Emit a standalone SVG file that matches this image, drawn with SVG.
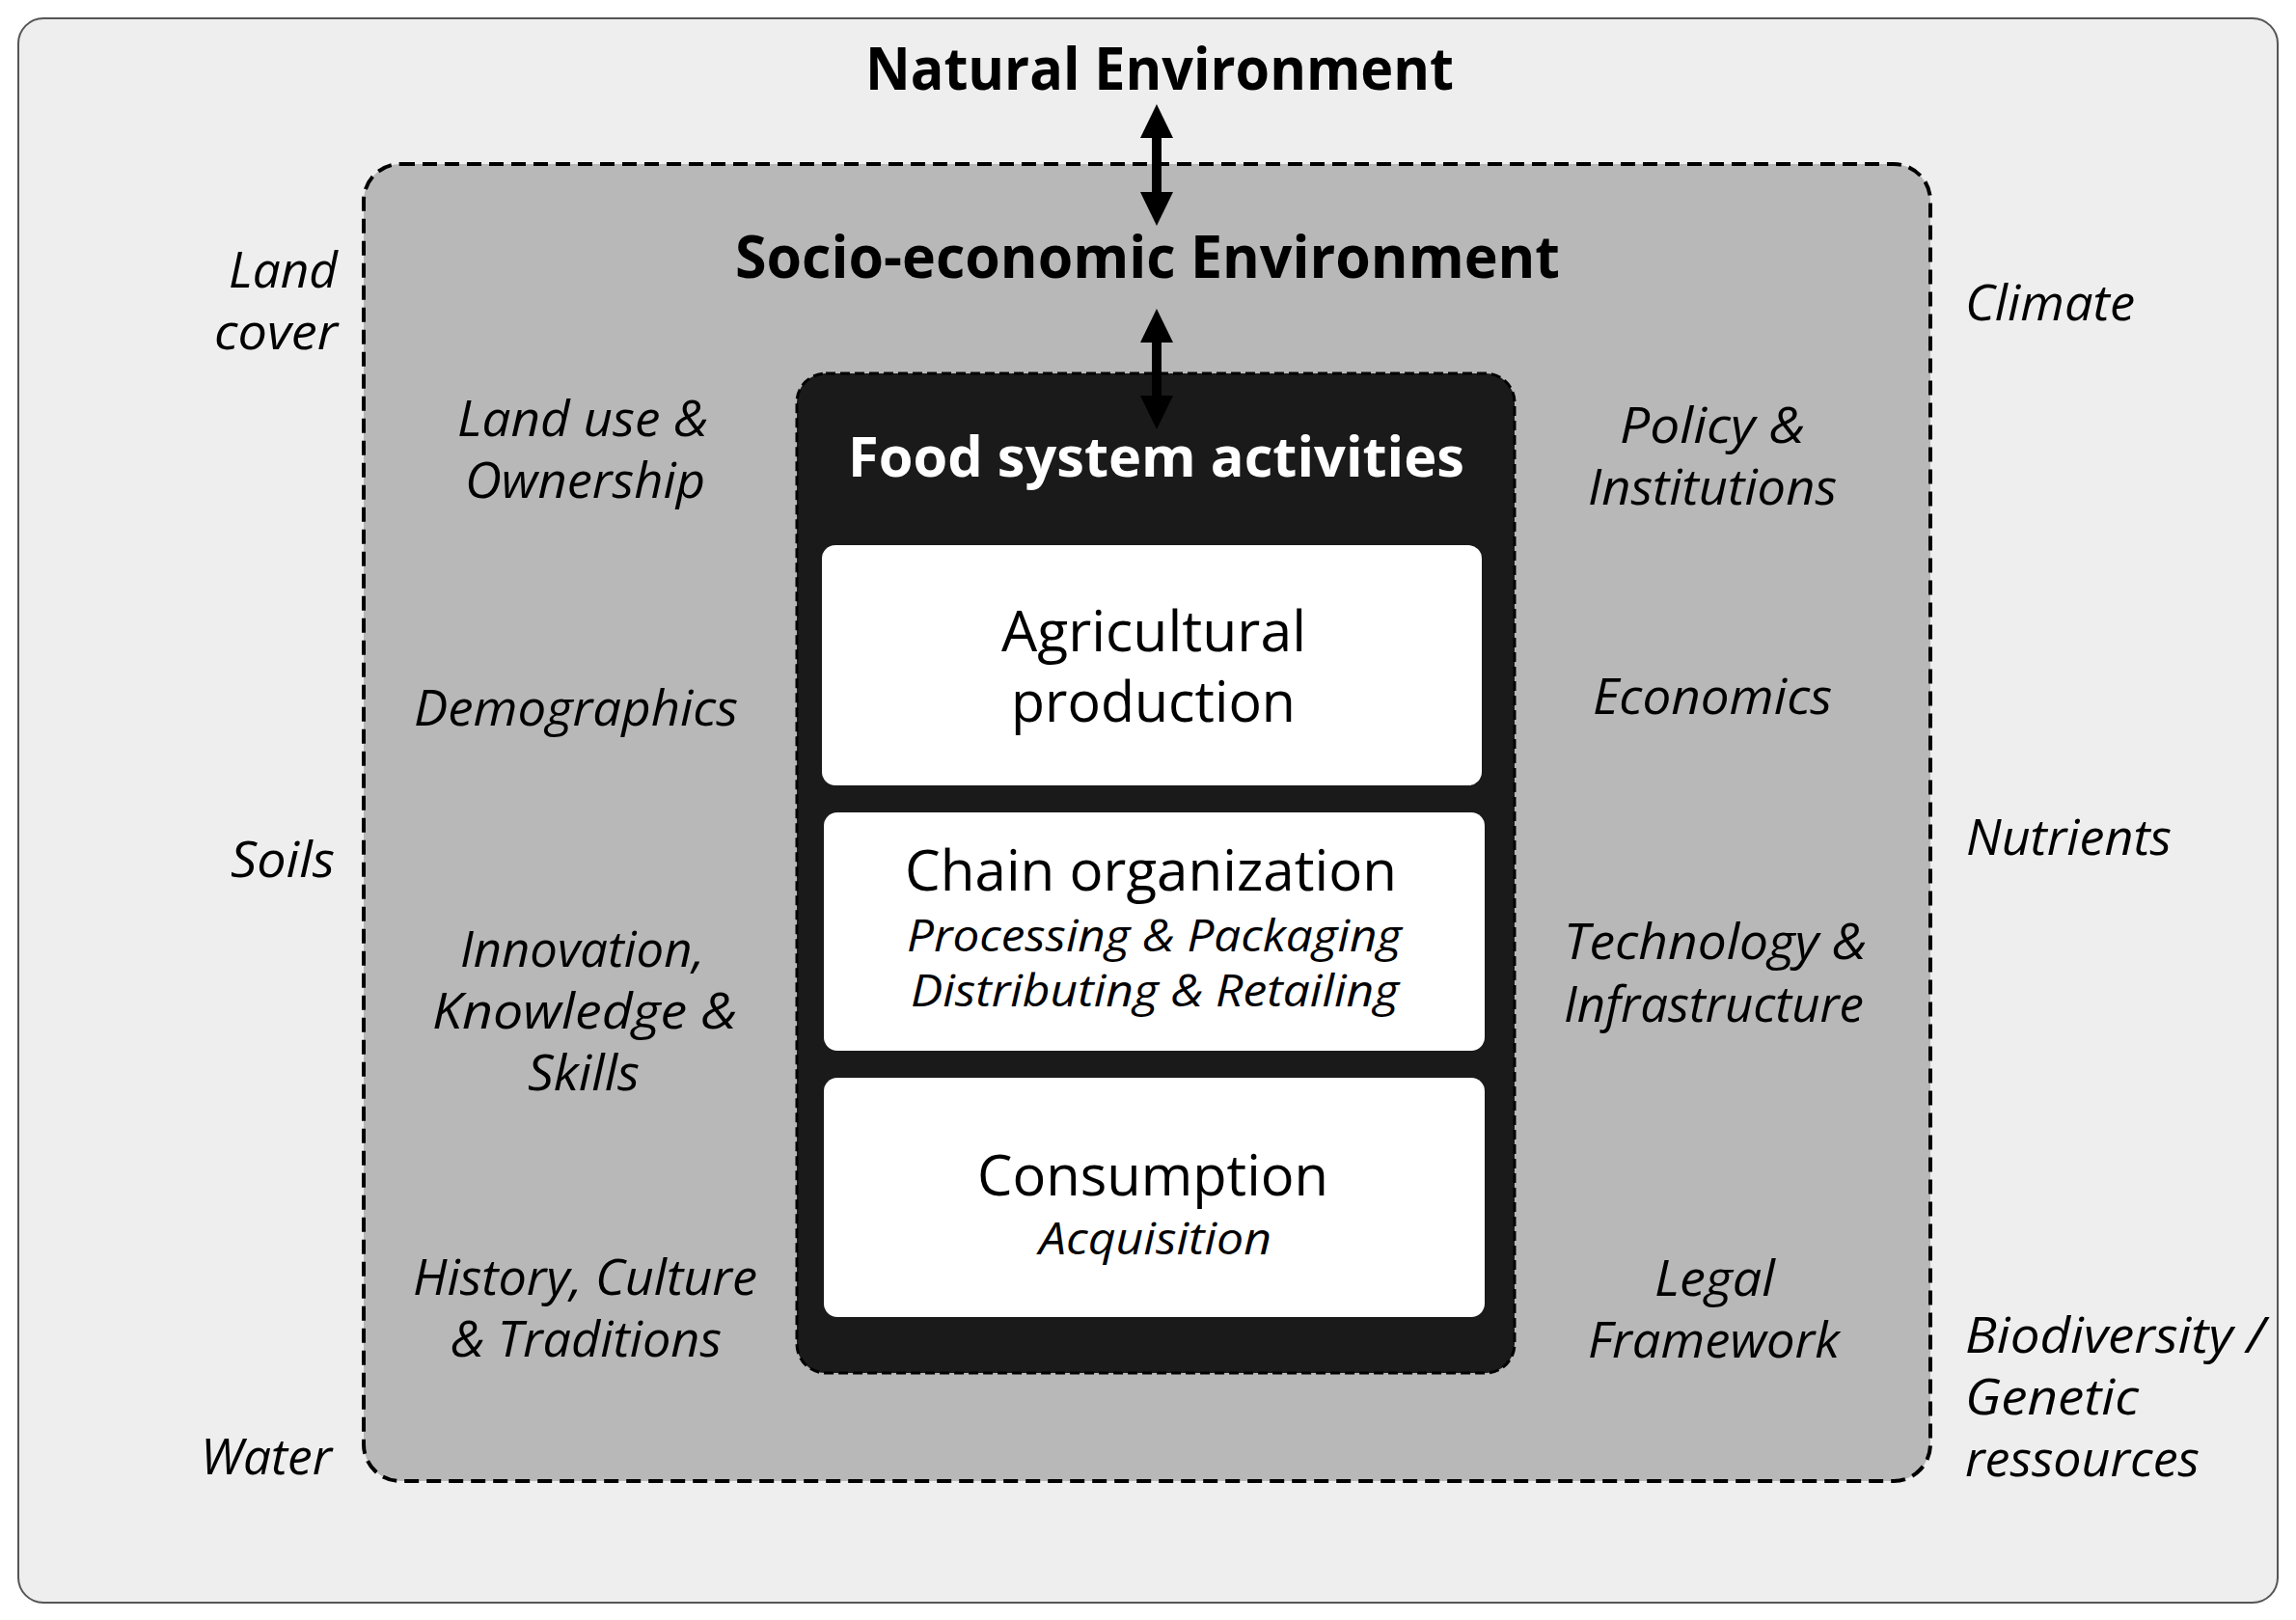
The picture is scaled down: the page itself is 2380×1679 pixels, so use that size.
<svg xmlns="http://www.w3.org/2000/svg" width="2380" height="1679" viewBox="0 0 2380 1679">
<defs>
<style>
text{font-family:"Open Sans","Noto Sans",sans-serif;fill:#000}
.title{font-weight:700;font-size:60px}
.ftitle{font-weight:700;font-size:58px;fill:#fff}
.main{font-size:58px}
.sub{font-size:46px;font-style:italic}
.lab{font-size:52px;font-style:italic}
.box{fill:#fff}
.conn{stroke:#000;stroke-width:10;fill:none;marker-start:url(#ah);marker-end:url(#ah)}
</style>
<marker id="ah" markerUnits="userSpaceOnUse" viewBox="0 0 35 34" markerWidth="35" markerHeight="34" refX="15" refY="17" orient="auto-start-reverse">
<path d="M0,0 L35,17 L0,34 z" fill="#000"/>
</marker>
</defs>
<rect x="0" y="0" width="2380" height="1679" fill="#fff"/>
<g id="natural-environment">
<rect x="19" y="19" width="2342" height="1642" rx="26" fill="#eeeeee" stroke="#555" stroke-width="2"/>
<text class="title" x="897" y="93" textLength="610" lengthAdjust="spacingAndGlyphs">Natural Environment</text>
<text class="lab"><tspan x="237" y="298" textLength="113" lengthAdjust="spacingAndGlyphs">Land</tspan><tspan x="222" y="362" textLength="128" lengthAdjust="spacingAndGlyphs">cover</tspan></text>
<text class="lab" x="239" y="909" textLength="108" lengthAdjust="spacingAndGlyphs">Soils</text>
<text class="lab" x="208" y="1528" textLength="136" lengthAdjust="spacingAndGlyphs">Water</text>
<text class="lab" x="2037" y="332" textLength="176" lengthAdjust="spacingAndGlyphs">Climate</text>
<text class="lab" x="2038" y="886" textLength="213" lengthAdjust="spacingAndGlyphs">Nutrients</text>
<text class="lab"><tspan x="2037" y="1402" textLength="311" lengthAdjust="spacingAndGlyphs">Biodiversity /</tspan><tspan x="2037" y="1466" textLength="180" lengthAdjust="spacingAndGlyphs">Genetic</tspan><tspan x="2037" y="1530" textLength="243" lengthAdjust="spacingAndGlyphs">ressources</tspan></text>
</g>
<g id="socio-economic-environment">
<rect x="377" y="170" width="1624" height="1365" rx="38" fill="#b8b8b8" stroke="#000" stroke-width="4" stroke-dasharray="15 8"/>
<text class="title" x="762" y="288" textLength="855" lengthAdjust="spacingAndGlyphs">Socio-economic Environment</text>
<text class="lab"><tspan x="474" y="452" textLength="260" lengthAdjust="spacingAndGlyphs">Land use &amp;</tspan><tspan x="482" y="516" textLength="249" lengthAdjust="spacingAndGlyphs">Ownership</tspan></text>
<text class="lab" x="429" y="752" textLength="336" lengthAdjust="spacingAndGlyphs">Demographics</text>
<text class="lab"><tspan x="477" y="1002" textLength="253" lengthAdjust="spacingAndGlyphs">Innovation,</tspan><tspan x="448" y="1066" textLength="316" lengthAdjust="spacingAndGlyphs">Knowledge &amp;</tspan><tspan x="547" y="1130" textLength="116" lengthAdjust="spacingAndGlyphs">Skills</tspan></text>
<text class="lab"><tspan x="428" y="1342" textLength="357" lengthAdjust="spacingAndGlyphs">History, Culture</tspan><tspan x="467" y="1406" textLength="281" lengthAdjust="spacingAndGlyphs">&amp; Traditions</tspan></text>
<text class="lab"><tspan x="1679" y="459" textLength="192" lengthAdjust="spacingAndGlyphs">Policy &amp;</tspan><tspan x="1646" y="523" textLength="258" lengthAdjust="spacingAndGlyphs">Institutions</tspan></text>
<text class="lab" x="1651" y="740" textLength="248" lengthAdjust="spacingAndGlyphs">Economics</text>
<text class="lab"><tspan x="1621" y="994" textLength="314" lengthAdjust="spacingAndGlyphs">Technology &amp;</tspan><tspan x="1621" y="1059" textLength="311" lengthAdjust="spacingAndGlyphs">Infrastructure</tspan></text>
<text class="lab"><tspan x="1715" y="1343" textLength="125" lengthAdjust="spacingAndGlyphs">Legal</tspan><tspan x="1646" y="1407" textLength="261" lengthAdjust="spacingAndGlyphs">Framework</tspan></text>
</g>
<g id="food-system-activities">
<rect x="826" y="387" width="744" height="1036" rx="30" fill="#1a1a1a" stroke="#000" stroke-width="3" stroke-dasharray="10 5"/>
<text class="ftitle" x="879" y="494" textLength="639" lengthAdjust="spacingAndGlyphs">Food system activities</text>
</g>
<g id="agricultural-production">
<rect class="box" x="852" y="565" width="684" height="249" rx="14"/>
<text class="main"><tspan x="1038" y="675" textLength="316" lengthAdjust="spacingAndGlyphs">Agricultural</tspan><tspan x="1048" y="748" textLength="295" lengthAdjust="spacingAndGlyphs">production</tspan></text>
</g>
<g id="chain-organization">
<rect class="box" x="854" y="842" width="685" height="247" rx="14"/>
<text class="main" x="938" y="923" textLength="510" lengthAdjust="spacingAndGlyphs">Chain organization</text>
<text class="sub"><tspan x="940" y="986" textLength="513" lengthAdjust="spacingAndGlyphs">Processing &amp; Packaging</tspan><tspan x="944" y="1043" textLength="506" lengthAdjust="spacingAndGlyphs">Distributing &amp; Retailing</tspan></text>
</g>
<g id="consumption">
<rect class="box" x="854" y="1117" width="685" height="248" rx="14"/>
<text class="main" x="1013" y="1239" textLength="364" lengthAdjust="spacingAndGlyphs">Consumption</text>
<text class="sub" x="1077" y="1300" textLength="241" lengthAdjust="spacingAndGlyphs">Acquisition</text>
</g>
<g id="connectors">
<line class="conn" x1="1199" y1="128" x2="1199" y2="214"/>
<line class="conn" x1="1199" y1="340" x2="1199" y2="425"/>
</g>
</svg>
